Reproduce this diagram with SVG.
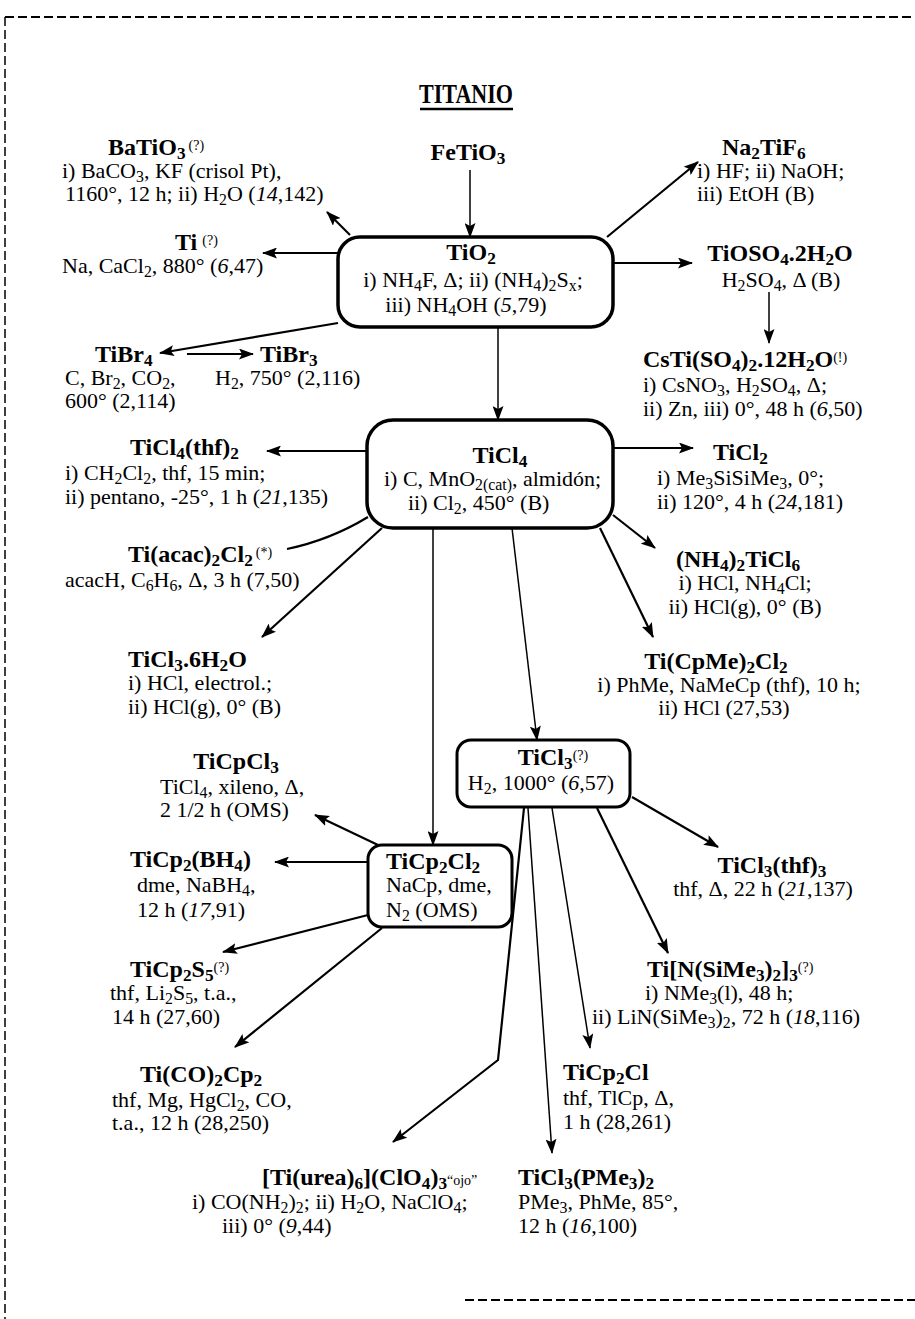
<svg xmlns="http://www.w3.org/2000/svg" width="915" height="1319" viewBox="0 0 915 1319">
<defs>
<style>
text{font-family:"Liberation Serif","Times New Roman",serif;font-size:22px;fill:#000}
.b{font-weight:bold;font-size:24px}
.c{text-anchor:middle}
.i{font-style:italic}
.s{font-size:72%}
.q{font-size:14px;font-weight:normal}
.box{fill:none;stroke:#000;stroke-width:3.5}
.sbox{fill:none;stroke:#000;stroke-width:3}
.ln{fill:none;stroke:#000;stroke-width:2.2}
.th{fill:none;stroke:#000;stroke-width:1.5}
.frame{fill:none;stroke:#000;stroke-width:2;stroke-dasharray:9 4}
</style>
<marker id="ah" viewBox="0 0 15 11" refX="14" refY="5.5" markerWidth="15" markerHeight="11" markerUnits="userSpaceOnUse" orient="auto"><path d="M0,0 L15,5.5 L0,11 L3,5.5 Z"/></marker>
</defs>
<rect width="915" height="1319" fill="#fff"/>
<g id="frame">
<path class="frame" d="M5,17 H915"/>
<path class="frame" d="M5,17 V1319" style="stroke-width:1.5"/>
<path class="frame" d="M465,1300 H915"/>
</g>
<g id="title">
<text class="b c" x="466" y="103" style="font-size:27px" textLength="94" lengthAdjust="spacingAndGlyphs">TITANIO</text>
<line x1="420" y1="109" x2="513" y2="109" stroke="#000" stroke-width="2.5"/>
</g>
<g id="connectors">
<path class="th" d="M470,170 L470,237" marker-end="url(#ah)"/>
<path class="ln" d="M350,235 L327,212" marker-end="url(#ah)"/>
<path class="ln" d="M338,253 L263,253" marker-end="url(#ah)"/>
<path class="ln" d="M607,237 L698,162" marker-end="url(#ah)"/>
<path class="ln" d="M613,263 L692,263" marker-end="url(#ah)"/>
<path class="th" d="M769,292 L769,343" marker-end="url(#ah)"/>
<path class="ln" d="M338,323 L160,353" marker-end="url(#ah)"/>
<path class="ln" d="M187,354 L253,354" marker-end="url(#ah)"/>
<path class="th" d="M498,327 L498,420" marker-end="url(#ah)"/>
<path class="ln" d="M367,451 L267,451" marker-end="url(#ah)"/>
<path class="ln" d="M613,448 L693,448" marker-end="url(#ah)"/>
<path class="ln" d="M368,517 Q330,540 287,549"/>
<path class="ln" d="M382,528 L262,637" marker-end="url(#ah)"/>
<path class="ln" d="M613,515 L655,548" marker-end="url(#ah)"/>
<path class="ln" d="M600,528 L653,637" marker-end="url(#ah)"/>
<path class="th" d="M512,528 L537,740" marker-end="url(#ah)"/>
<path class="th" d="M433,528 L433,845" marker-end="url(#ah)"/>
<path class="ln" d="M378,845 L315,815" marker-end="url(#ah)"/>
<path class="ln" d="M368,862 L275,862" marker-end="url(#ah)"/>
<path class="ln" d="M368,915 L223,952" marker-end="url(#ah)"/>
<path class="ln" d="M382,928 L235,1047" marker-end="url(#ah)"/>
<path class="ln" d="M632,797 L718,847" marker-end="url(#ah)"/>
<path class="ln" d="M597,808 L668,953" marker-end="url(#ah)"/>
<path class="th" d="M552,808 L590,1048" marker-end="url(#ah)"/>
<path class="th" d="M528,808 L552,1153" marker-end="url(#ah)"/>
<path class="ln" d="M524,808 L498,1060 L393,1142" marker-end="url(#ah)"/>
</g>
<g id="BaTiO3">
<text class="b" x="108" y="155">BaTiO<tspan class="s" baseline-shift="-4">3</tspan><tspan class="q" dx="3" baseline-shift="5">(?)</tspan></text>
<text x="62" y="178">i) BaCO<tspan class="s" baseline-shift="-4">3</tspan>, KF (crisol Pt),</text>
<text x="65" y="201">1160°, 12 h; ii) H<tspan class="s" baseline-shift="-4">2</tspan>O (<tspan class="i">14</tspan>,142)</text>
</g>
<g id="FeTiO3">
<text class="b c" x="468" y="160">FeTiO<tspan class="s" baseline-shift="-4">3</tspan></text>
</g>
<g id="Na2TiF6">
<text class="b" x="722" y="155">Na<tspan class="s" baseline-shift="-4">2</tspan>TiF<tspan class="s" baseline-shift="-4">6</tspan></text>
<text x="697" y="178">i) HF; ii) NaOH;</text>
<text x="697" y="201">iii) EtOH (B)</text>
</g>
<g id="TiO2">
<rect class="box" x="338" y="237" width="275" height="90" rx="22"/>
<text class="b c" x="471" y="260">TiO<tspan class="s" baseline-shift="-4">2</tspan></text>
<text class="c" x="473" y="287">i) NH<tspan class="s" baseline-shift="-4">4</tspan>F, Δ; ii) (NH<tspan class="s" baseline-shift="-4">4</tspan>)<tspan class="s" baseline-shift="-4">2</tspan>S<tspan class="s" baseline-shift="-4">x</tspan>;</text>
<text class="c" x="466" y="312">iii) NH<tspan class="s" baseline-shift="-4">4</tspan>OH  (<tspan class="i">5</tspan>,79)</text>
</g>
<g id="Ti">
<text class="b" x="175" y="250">Ti<tspan class="q" dx="5" baseline-shift="5">(?)</tspan></text>
<text x="62" y="273">Na, CaCl<tspan class="s" baseline-shift="-4">2</tspan>, 880° (<tspan class="i">6</tspan>,47)</text>
</g>
<g id="TiOSO4">
<text class="b c" x="780" y="261">TiOSO<tspan class="s" baseline-shift="-4">4</tspan>.2H<tspan class="s" baseline-shift="-4">2</tspan>O</text>
<text class="c" x="781" y="287">H<tspan class="s" baseline-shift="-4">2</tspan>SO<tspan class="s" baseline-shift="-4">4</tspan>, Δ (B)</text>
</g>
<g id="TiBr4">
<text class="b" x="95" y="362">TiBr<tspan class="s" baseline-shift="-4">4</tspan></text>
<text x="65" y="385">C, Br<tspan class="s" baseline-shift="-4">2</tspan>, CO<tspan class="s" baseline-shift="-4">2</tspan>,</text>
<text x="65" y="408">600° (2,114)</text>
</g>
<g id="TiBr3">
<text class="b" x="260" y="362">TiBr<tspan class="s" baseline-shift="-4">3</tspan></text>
<text x="215" y="385">H<tspan class="s" baseline-shift="-4">2</tspan>, 750° (2,116)</text>
</g>
<g id="CsTi">
<text class="b" x="643" y="367">CsTi(SO<tspan class="s" baseline-shift="-4">4</tspan>)<tspan class="s" baseline-shift="-4">2</tspan>.12H<tspan class="s" baseline-shift="-4">2</tspan>O<tspan class="q" baseline-shift="5">(!)</tspan></text>
<text x="643" y="392">i) CsNO<tspan class="s" baseline-shift="-4">3</tspan>, H<tspan class="s" baseline-shift="-4">2</tspan>SO<tspan class="s" baseline-shift="-4">4</tspan>, Δ;</text>
<text x="643" y="416">ii) Zn, iii) 0°, 48 h (<tspan class="i">6</tspan>,50)</text>
</g>
<g id="TiCl4">
<rect class="box" x="367" y="420" width="246" height="108" rx="26"/>
<text class="b c" x="500" y="463">TiCl<tspan class="s" baseline-shift="-4">4</tspan></text>
<text x="384" y="486">i) C, MnO<tspan class="s" baseline-shift="-4">2(cat)</tspan>, almidón;</text>
<text x="408" y="510">ii) Cl<tspan class="s" baseline-shift="-4">2</tspan>, 450° (B)</text>
</g>
<g id="TiCl4thf2">
<text class="b" x="130" y="455">TiCl<tspan class="s" baseline-shift="-4">4</tspan>(thf)<tspan class="s" baseline-shift="-4">2</tspan></text>
<text x="65" y="480">i) CH<tspan class="s" baseline-shift="-4">2</tspan>Cl<tspan class="s" baseline-shift="-4">2</tspan>, thf, 15 min;</text>
<text x="65" y="504">ii) pentano, -25°, 1 h (<tspan class="i">21</tspan>,135)</text>
</g>
<g id="TiCl2">
<text class="b" x="713" y="460">TiCl<tspan class="s" baseline-shift="-4">2</tspan></text>
<text x="657" y="485">i) Me<tspan class="s" baseline-shift="-4">3</tspan>SiSiMe<tspan class="s" baseline-shift="-4">3</tspan>, 0°;</text>
<text x="657" y="509">ii) 120°, 4 h (<tspan class="i">24</tspan>,181)</text>
</g>
<g id="Tiacac">
<text class="b" x="128" y="562">Ti(acac)<tspan class="s" baseline-shift="-4">2</tspan>Cl<tspan class="s" baseline-shift="-4">2</tspan><tspan class="q" dx="3" baseline-shift="5">(*)</tspan></text>
<text x="65" y="587">acacH, C<tspan class="s" baseline-shift="-4">6</tspan>H<tspan class="s" baseline-shift="-4">6</tspan>, Δ, 3 h (7,50)</text>
</g>
<g id="TiCl3_6H2O">
<text class="b" x="128" y="667">TiCl<tspan class="s" baseline-shift="-4">3</tspan>.6H<tspan class="s" baseline-shift="-4">2</tspan>O</text>
<text x="128" y="690">i) HCl, electrol.;</text>
<text x="128" y="714">ii) HCl(g), 0° (B)</text>
</g>
<g id="NH42TiCl6">
<text class="b c" x="738" y="567">(NH<tspan class="s" baseline-shift="-4">4</tspan>)<tspan class="s" baseline-shift="-4">2</tspan>TiCl<tspan class="s" baseline-shift="-4">6</tspan></text>
<text class="c" x="745" y="590">i) HCl, NH<tspan class="s" baseline-shift="-4">4</tspan>Cl;</text>
<text class="c" x="745" y="614">ii) HCl(g), 0° (B)</text>
</g>
<g id="TiCpMe2Cl2">
<text class="b c" x="716" y="669">Ti(CpMe)<tspan class="s" baseline-shift="-4">2</tspan>Cl<tspan class="s" baseline-shift="-4">2</tspan></text>
<text class="c" x="729" y="692">i) PhMe, NaMeCp (thf), 10 h;</text>
<text class="c" x="724" y="715">ii) HCl (27,53)</text>
</g>
<g id="TiCl3">
<rect class="sbox" x="457" y="740" width="173" height="67" rx="14"/>
<text class="b c" x="553" y="765">TiCl<tspan class="s" baseline-shift="-4">3</tspan><tspan class="q" baseline-shift="5">(?)</tspan></text>
<text class="c" x="541" y="790">H<tspan class="s" baseline-shift="-4">2</tspan>, 1000° (<tspan class="i">6</tspan>,57)</text>
</g>
<g id="TiCpCl3">
<text class="b c" x="236" y="769">TiCpCl<tspan class="s" baseline-shift="-4">3</tspan></text>
<text x="160" y="794">TiCl<tspan class="s" baseline-shift="-4">4</tspan>, xileno, Δ,</text>
<text x="160" y="817">2 1/2 h (OMS)</text>
</g>
<g id="TiCp2Cl2">
<rect class="sbox" x="368" y="845" width="144" height="82" rx="14"/>
<text class="b" x="386" y="869">TiCp<tspan class="s" baseline-shift="-4">2</tspan>Cl<tspan class="s" baseline-shift="-4">2</tspan></text>
<text x="386" y="892">NaCp, dme,</text>
<text x="386" y="917">N<tspan class="s" baseline-shift="-4">2</tspan> (OMS)</text>
</g>
<g id="TiCp2BH4">
<text class="b" x="130" y="867">TiCp<tspan class="s" baseline-shift="-4">2</tspan>(BH<tspan class="s" baseline-shift="-4">4</tspan>)</text>
<text x="137" y="892">dme, NaBH<tspan class="s" baseline-shift="-4">4</tspan>,</text>
<text x="137" y="917">12 h (<tspan class="i">17</tspan>,91)</text>
</g>
<g id="TiCp2S5">
<text class="b" x="130" y="977">TiCp<tspan class="s" baseline-shift="-4">2</tspan>S<tspan class="s" baseline-shift="-4">5</tspan><tspan class="q" baseline-shift="5">(?)</tspan></text>
<text x="110" y="1000">thf, Li<tspan class="s" baseline-shift="-4">2</tspan>S<tspan class="s" baseline-shift="-4">5</tspan>, t.a.,</text>
<text x="112" y="1024">14 h (27,60)</text>
</g>
<g id="TiCO2Cp2">
<text class="b" x="140" y="1082">Ti(CO)<tspan class="s" baseline-shift="-4">2</tspan>Cp<tspan class="s" baseline-shift="-4">2</tspan></text>
<text x="112" y="1107">thf, Mg, HgCl<tspan class="s" baseline-shift="-4">2</tspan>, CO,</text>
<text x="112" y="1130">t.a., 12 h (28,250)</text>
</g>
<g id="TiCl3thf3">
<text class="b c" x="772" y="873">TiCl<tspan class="s" baseline-shift="-4">3</tspan>(thf)<tspan class="s" baseline-shift="-4">3</tspan></text>
<text class="c" x="763" y="896">thf, Δ, 22 h (<tspan class="i">21</tspan>,137)</text>
</g>
<g id="TiNSiMe3">
<text class="b" x="647" y="977">Ti[N(SiMe<tspan class="s" baseline-shift="-4">3</tspan>)<tspan class="s" baseline-shift="-4">2</tspan>]<tspan class="s" baseline-shift="-4">3</tspan><tspan class="q" baseline-shift="5">(?)</tspan></text>
<text x="645" y="1000">i) NMe<tspan class="s" baseline-shift="-4">3</tspan>(l), 48 h;</text>
<text x="592" y="1024">ii) LiN(SiMe<tspan class="s" baseline-shift="-4">3</tspan>)<tspan class="s" baseline-shift="-4">2</tspan>, 72 h (<tspan class="i">18</tspan>,116)</text>
</g>
<g id="TiCp2Cl">
<text class="b" x="563" y="1080">TiCp<tspan class="s" baseline-shift="-4">2</tspan>Cl</text>
<text x="563" y="1105">thf, TlCp, Δ,</text>
<text x="563" y="1129">1 h (28,261)</text>
</g>
<g id="TiCl3PMe32">
<text class="b" x="518" y="1185">TiCl<tspan class="s" baseline-shift="-4">3</tspan>(PMe<tspan class="s" baseline-shift="-4">3</tspan>)<tspan class="s" baseline-shift="-4">2</tspan></text>
<text x="518" y="1209">PMe<tspan class="s" baseline-shift="-4">3</tspan>, PhMe, 85°,</text>
<text x="518" y="1233">12 h (<tspan class="i">16</tspan>,100)</text>
</g>
<g id="Tiurea">
<text class="b" x="262" y="1185">[Ti(urea)<tspan class="s" baseline-shift="-4">6</tspan>](ClO<tspan class="s" baseline-shift="-4">4</tspan>)<tspan class="s" baseline-shift="-4">3</tspan><tspan class="q">“ojo”</tspan></text>
<text x="192" y="1209">i) CO(NH<tspan class="s" baseline-shift="-4">2</tspan>)<tspan class="s" baseline-shift="-4">2</tspan>; ii) H<tspan class="s" baseline-shift="-4">2</tspan>O, NaClO<tspan class="s" baseline-shift="-4">4</tspan>;</text>
<text x="222" y="1233">iii) 0° (<tspan class="i">9</tspan>,44)</text>
</g>
</svg>
